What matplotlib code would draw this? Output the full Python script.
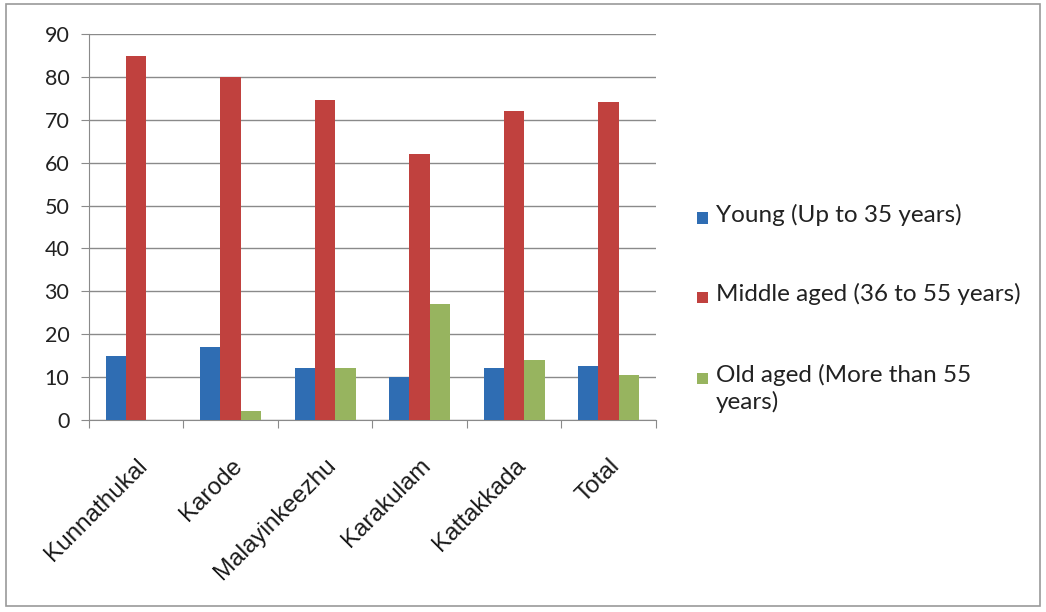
import matplotlib
matplotlib.use("Agg")
import matplotlib.pyplot as plt
import numpy as np
from matplotlib.patches import Rectangle

categories = ["Kunnathukal", "Karode", "Malayinkeezhu", "Karakulam", "Kattakkada", "Total"]
young = [15, 17, 12, 10, 12, 12.6]
middle = [85, 80, 74.6, 62, 72, 74.2]
old = [0, 2, 12, 27, 14, 10.5]
series_labels = ["Young (Up to 35 years)", "Middle aged (36 to 55 years)", "Old aged (More than 55\nyears)"]
colors = ["#2F6DB3", "#C0413E", "#97B45F"]
yticks = [0, 10, 20, 30, 40, 50, 60, 70, 80, 90]

W, H = 1046, 612
fig = plt.figure(figsize=(W / 100, H / 100), dpi=100)
ax = fig.add_axes([0.085, 0.314, 0.542, 0.63])

x = np.arange(len(categories))
w = 0.215
for i, (vals, c) in enumerate(zip([young, middle, old], colors)):
    ax.bar(x + (i - 1) * w, vals, width=w, color=c, zorder=3)

ax.set_xlim(-0.5, len(categories) - 0.5)
ax.set_ylim(0, 90)
ax.set_yticks(yticks)
ax.set_yticklabels([str(t) for t in yticks], fontsize=15.5, family="Lato", color="#222222")
ax.yaxis.grid(True, color="#8a8a8a", linewidth=1.0, zorder=0)
ax.set_axisbelow(True)
for s in ["top", "right"]:
    ax.spines[s].set_visible(False)
ax.spines["left"].set_color("#8a8a8a")
ax.spines["bottom"].set_color("#8a8a8a")
ax.tick_params(axis="y", length=6, color="#8a8a8a", pad=8)

# category boundary ticks on x
ax.set_xticks(np.arange(-0.5, len(categories), 1.0), minor=False)
ax.set_xticklabels([])
ax.tick_params(axis="x", which="major", length=6, color="#8a8a8a")
ax.set_xticks(x, minor=True)
ax.set_xticklabels(categories, minor=True, rotation=45, ha="right", va="top",
                   rotation_mode="anchor", fontsize=17.5, family="Liberation Sans", color="#1a1a1a")
ax.tick_params(axis="x", which="minor", length=0, pad=25)

# legend (manually laid out to keep the marker on the first text line)
legend_rows_px = [218, 297, 378]
marker_x_px = 697
text_x_px = 716
sq = 11
for label, c, ypx in zip(series_labels, colors, legend_rows_px):
    fig.patches.append(Rectangle((marker_x_px / W, 1 - (ypx + sq / 2) / H), sq / W, sq / H,
                                 transform=fig.transFigure, facecolor=c, edgecolor="none"))
    fig.text(text_x_px / W, 1 - (ypx - 14) / H, label, ha="left", va="top",
             family="Lato", fontsize=17.5, color="#222222", linespacing=1.25)

fig.patches.append(Rectangle((0.006, 0.01), 0.988, 0.983, transform=fig.transFigure,
                             fill=False, edgecolor="#9a9a9a", linewidth=1.2))

fig.savefig("out.png", dpi=100)
